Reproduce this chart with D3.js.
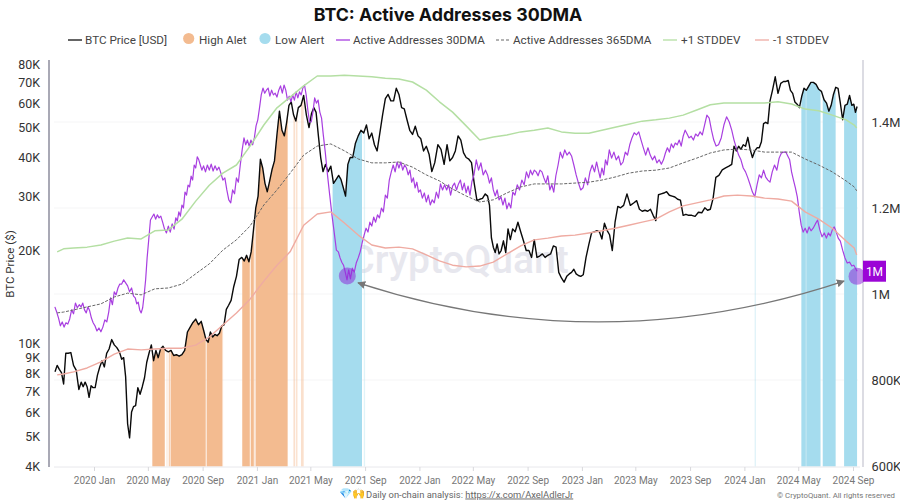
<!DOCTYPE html>
<html>
<head>
<meta charset="utf-8">
<style>
	html, body { margin: 0; padding: 0; background: #fff; overflow: hidden; }
	text { font-family: Roboto, "Noto Sans", sans-serif; }
	text.title { font-family: Inter, Roboto, sans-serif; }
</style>
</head>
<body>
<div id="graphic"></div>
<script src="https://cdn.jsdelivr.net/npm/d3@7/dist/d3.min.js"></script>
<script>

var width = 900, height = 500;

// one row per calendar month, Oct 2019 to Sep 2024. values in a row are spread evenly over that month
var btcPrice = [
	[8100,8500,8250,8050,7400,9300],[9300,9350,8500,8200,7100],[7500,7250,7500,7250,6700,7300,7200],
	[7200,7900,8400,8800,8400,9300],[9600,10300,9900,9700,9400],[8900,9000,7800,5500,4950,6000,6250],[6300,7200,6850,7250,7750,8700],[9300,9900,8800,9500,9000,9600],[9800,9500,9400,9500,9150],[9200,9100,9200,9500,10900],[11300,11700,12000,11500,11800],[11000,10300,10100,10900,10500,10700],[10600,10800,11400,11500,12900,13300],[13800,15300,16500,18700,19000],[18500,19300,18400,19800,23300,27500],
	[30000,39500,37000,33000,31000,33500],[36500,39000,47500,56500,49000],[47000,52000,59000,60500,55000,52500],[58000,59000,63500,55000,50000],[55500,58000,56000,47000,40000,36000],[38000,36000,37500,33000,34000],[35000,34000,32000,30000,38000,40000],[40000,44500,47000,49000,48000],[51000,46000,48000,44000,42000],[48000,55000,62000,64000,61000],[61000,67000,64000,58000,57500],[53000,49000,47500,50500,47000],
	[46000,42000,43500,41000,36000],[38500,44000,42500,38000],[44000,39000,40000,42000,47000],[45500,41500,40000,39500,38500],[33000,29000,29300,29500,30500],[30000,28000,22000,20500,19700,21000,19500],[20000,21500,19700,23500,21700,23500],[23000,24700,23000,21500,20000],[20000,19000,21700,19000,19200],[19500,19000,19300,19500,20700],[20500,17000,16300,15800,16500],[16800,17000,17400,16800,16600,16500],
	[16700,19000,20900,22800,23000],[23200,23000,21800,24500,23300],[22500,20000,24700,27800,27500],[28000,30500,28000,28500],[29000,27200,26800,27000,26800],[27200,26000,25000,30300,30500],[30700,31000,30200,30000,29800],[29300,29100,26000,26200,26000],[26000,25800,26600,26500],[27500,27000,27200,29500,34500],[35000,36500,37000,37500],[38000,43500,42000,43500,42500,44000],
	[43500,46500,42500,40000,42000,43000],[43000,45000,51500,52000,51500,61000],[66000,73000,64500,69500,70500],[70500,71000,66000,64500,60500,59500],[58000,63000,67000,66000,68000,70000],[70000,69000,66500,65500,61500],[60000,56500,59000,64000,67500,67000],[60000,53000,59000,59500,63500,59000],[59500,56000,58500]
];

// thousands of addresses, same month rows
var activeAddresses30 = [
	[970,958,944,926,935,923,933],[930,942,963,954,979,968,975],[970,979,963,956,970,961,944,933],
	[926,914,921,912,923,940,935],[958,991,975,1005,998,1014,1023],[1023,1033,1026,1019,1005,1014,995],[991,977,981,963,956,968,998,1033,1084],[1126,1172,1179,1186,1174,1184,1177,1181],[1167,1151,1142,1158,1144,1163,1151],[1177,1170,1191,1181,1207,1200,1237,1230,1253],[1249,1274,1265,1300,1293,1319,1312,1300,1288],[1298,1284,1300,1288,1302,1286,1298],[1288,1295,1281,1265,1270,1242,1219],[1212,1242,1233,1270,1260,1300,1335],[1363,1347,1358,1344,1358,1347,1363,1391],
	[1405,1433,1463,1479,1467,1474,1479,1460],[1474,1463,1467,1458,1474,1484,1467],[1486,1474,1451,1460,1447,1463,1451,1470],[1456,1470,1463,1479,1486,1463,1428,1400],[1400,1423,1456,1444,1451,1423,1409,1370],[1330,1277,1230,1184,1144,1102],[1098,1084,1074,1067,1051,1033,1056,1035],[1060,1051,1072,1084,1098,1119,1137],[1153,1144,1167,1158,1179,1167,1184],[1177,1200,1191,1230,1223,1265,1284],[1300,1284,1307,1293,1307,1288,1300],[1293,1277,1288,1260,1270,1247,1260,1237],
	[1242,1223,1235,1214,1230,1207,1219],[1212,1237,1223,1256,1242,1254],[1242,1254,1230,1251,1258,1242,1256],[1265,1242,1258,1235,1251,1230,1261],[1277,1312,1288,1305,1277,1288],[1277,1258,1270,1242,1228,1242,1219],[1226,1207,1223,1198,1212,1200,1237],[1230,1254,1242,1265,1254,1284],[1270,1288,1277,1288,1284,1275,1288],[1284,1270,1258,1275,1242,1254,1237],[1275,1300,1330,1316,1335,1323],[1330,1321,1300,1277,1258,1242],
	[1247,1270,1254,1284,1300,1284],[1307,1288,1270,1293,1277,1312,1300],[1335,1316,1330,1312,1321,1300],[1307,1330,1323,1347,1363,1375],[1370,1377,1358,1340,1323,1340],[1323,1312,1321,1305,1312,1302],[1312,1328,1340,1330,1349,1340,1351],[1347,1358,1344,1367,1381,1372,1363],[1367,1358,1372,1367,1377,1370],[1393,1416,1409,1381,1358,1344],[1347,1363,1393,1412,1400],[1381,1358,1340,1323,1312,1293],
	[1284,1270,1254,1237,1226,1254],[1277,1270,1288,1272,1265,1260],[1284,1300,1288,1316,1328,1330],[1330,1321,1312,1284,1265,1247,1226],[1191,1160,1144,1153,1142,1156,1147],[1153,1163,1172,1149,1133,1142],[1130,1142,1135,1149,1156,1144,1130],[1123,1102,1084,1072,1074,1065],[1067,1060,1053]
];

// smooth series, one value a month (two in the first and last month)
var activeAddresses365 = [956,958,963,970,
	977,993,1002,998,1012,1014,1023,1047,1070,1102,1126,1158,
	1207,1242,1281,1323,1344,1349,1333,1314,1305,1305,1307,1295,
	1277,1263,1244,1228,1214,1219,1235,1249,1256,1256,1256,1258,
	1260,1265,1272,1281,1286,1288,1293,1305,1316,1328,1335,1337,
	1335,1330,1330,1330,1314,1300,1284,1263,1249,1240];

var plusStd = [1098,1105,1107,1109,
	1114,1123,1130,1128,1147,1149,1174,1216,1253,1281,1300,1344,
	1393,1433,1458,1484,1507,1507,1509,1507,1505,1502,1500,1493,
	1474,1447,1423,1391,1358,1365,1370,1377,1381,1386,1377,1374,
	1374,1381,1388,1395,1402,1405,1409,1416,1428,1440,1444,1444,
	1444,1444,1447,1442,1430,1426,1416,1405,1393,1386];

var minusStd = [812,814,819,828,
	842,860,872,870,872,874,874,881,900,928,956,988,
	1030,1067,1098,1160,1186,1191,1165,1137,1114,1107,1109,1105,
	1091,1077,1067,1063,1065,1074,1093,1112,1126,1130,1135,1137,
	1142,1147,1153,1160,1167,1174,1191,1205,1212,1219,1228,1230,
	1228,1223,1221,1216,1191,1174,1153,1123,1107,1091];

// alert periods [from, to], shown under the price line
var highAlerts = [["2020-05-11","2020-06-08"],["2020-06-17","2020-06-19"],["2020-06-21","2020-09-08"],["2020-09-10","2020-10-15"],["2020-11-29","2020-12-16"],["2020-12-18","2020-12-25"],["2020-12-29","2021-03-11"]];
var highAlertsFaint = [["2020-06-12","2020-06-14"],["2020-10-15","2020-10-17"],["2020-12-26","2020-12-28"],["2021-03-24","2021-03-28"],["2021-03-30","2021-04-02"],["2021-04-10","2021-04-16"]];
var lowAlerts = [["2021-06-20","2021-08-25"],["2024-05-08","2024-05-18"],["2024-05-19","2024-06-20"],["2024-06-25","2024-07-24"],["2024-08-12","2024-09-12"]];
var lowAlertsFaint = [["2021-08-29","2021-09-01"],["2024-01-24","2024-01-27"],["2024-05-18","2024-05-19"]];

var priceTicks = [4000,5000,6000,7000,8000,9000,10000,20000,30000,40000,50000,60000,70000,80000];
var priceLabels = ["4K","5K","6K","7K","8K","9K","10K","20K","30K","40K","50K","60K","70K","80K"];
var addressTicks = [600,800,1000,1200,1400];
var addressLabels = ["600K","800K","1M","1.2M","1.4M"];
var timeTicks = ["2020-01-01","2020-05-01","2020-09-01","2021-01-01","2021-05-01","2021-09-01","2022-01-01","2022-05-01","2022-09-01","2023-01-01","2023-05-01","2023-09-01","2024-01-01","2024-05-01","2024-09-01"];
var timeLabels = ["2020 Jan","2020 May","2020 Sep","2021 Jan","2021 May","2021 Sep","2022 Jan","2022 May","2022 Sep","2023 Jan","2023 May","2023 Sep","2024 Jan","2024 May","2024 Sep"];

// annotations
var lowMarkers = [{date:"2021-07-23", value:1042},{date:"2024-09-10", value:1041}];
var arrowFrom = {date:"2021-08-16", value:1026};
var arrowBend = {date:"2023-02-12", value:842};
var arrowTo = {date:"2024-08-12", value:1030};
var lastLabel = {value:1053, text:"1M"};

var legendItems = [
	{label:"BTC Price [USD]", kind:"line", color:"#111", lineX:68, textX:85},
	{label:"High Alet", kind:"dot", color:"#f3bb90", lineX:188.7, textX:199},
	{label:"Low Alert", kind:"dot", color:"#a5dcee", lineX:265, textX:275},
	{label:"Active Addresses 30DMA", kind:"line", color:"#a83ee0", lineX:336, textX:353},
	{label:"Active Addresses 365DMA", kind:"dash", color:"#666", lineX:496, textX:513},
	{label:"+1 STDDEV", kind:"line", color:"#b4dfa3", lineX:663, textX:681},
	{label:"-1 STDDEV", kind:"line", color:"#efaba2", lineX:755, textX:773}
];

var parse = function(s) { return new Date(s + "T00:00:00Z"); };

var x = d3.scaleUtc().domain([parse("2020-01-01"), parse("2024-09-01")]).range([94, 853]);
var yPrice = d3.scaleLog().domain([4000, 80000]).range([466.5, 64.5]);
var yAddr = d3.scaleLinear().domain([600, 1400]).range([466, 122]);

var bounds = [parse("2019-10-03")]
	.concat(d3.utcMonths(parse("2019-11-01"), parse("2024-10-01")))
	.concat([parse("2024-09-12")]);

function spread(rows) {
	var points = [];
	rows.forEach(function(row, i) {
		var from = +bounds[i], to = +bounds[i + 1];
		row.forEach(function(v, k) {
			points.push({date: new Date(from + (k + 0.5) / row.length * (to - from)), value: v});
		});
	});
	return points;
}

function monthly(values) {
	var rows = [values.slice(0, 2)];
	values.slice(2, -2).forEach(function(v) { rows.push([v]); });
	rows.push(values.slice(-2));
	return rows;
}

var svg = d3.select("#graphic").append("svg")
	.attr("width", width)
	.attr("height", height)
	.attr("id", "svg");

// title and legend
svg.append("text")
	.attr("class", "title")
	.attr("x", 448).attr("y", 20.5)
	.attr("text-anchor", "middle")
	.attr("font-size", 17.8).attr("font-weight", 700).attr("fill", "#111")
	.text("BTC: Active Addresses 30DMA");

var legend = svg.append("g").attr("class", "legend");
legendItems.forEach(function(d) {
	if (d.kind == "dot") {
		legend.append("circle").attr("cx", d.lineX).attr("cy", 38.5).attr("r", 5.6).attr("fill", d.color);
	} else {
		legend.append("line")
			.attr("x1", d.lineX).attr("x2", d.lineX + 14).attr("y1", 40).attr("y2", 40)
			.attr("stroke", d.color).attr("stroke-width", d.kind == "dash" ? 1 : 1.3)
			.attr("stroke-dasharray", d.kind == "dash" ? "3,2" : null);
	}
	legend.append("text")
		.attr("x", d.textX).attr("y", 43.5)
		.attr("font-size", 11.7).attr("fill", "#444")
		.text(d.label);
});

// watermark
svg.append("text")
	.attr("x", 459).attr("y", 273)
	.attr("text-anchor", "middle")
	.attr("font-size", 39).attr("font-weight", 500).attr("fill", "#e7e7ee")
	.text("CryptoQuant");

// grid
svg.append("g").selectAll("line")
	.data(addressTicks.slice(1))
	.enter().append("line")
	.attr("x1", 54).attr("x2", 858)
	.attr("y1", function(d) { return yAddr(d); })
	.attr("y2", function(d) { return yAddr(d); })
	.attr("stroke", "#f5f5f6");

// alert bands, clipped to the area under the price
var pricePoints = spread(btcPrice);

var underPrice = d3.area()
	.x(function(d) { return x(d.date); })
	.y0(yPrice(4000))
	.y1(function(d) { return yPrice(d.value); });

svg.append("clipPath").attr("id", "under-price")
	.append("path").attr("d", underPrice(pricePoints));

var bands = svg.append("g").attr("clip-path", "url(#under-price)");

function drawBands(ranges, color, opacity) {
	bands.append("g").selectAll("rect")
		.data(ranges)
		.enter().append("rect")
		.attr("x", function(d) { return x(parse(d[0])); })
		.attr("width", function(d) { return x(parse(d[1])) - x(parse(d[0])); })
		.attr("y", 50)
		.attr("height", 420)
		.attr("fill", color)
		.attr("opacity", opacity);
}

drawBands(highAlerts, "#f3bb90", 1);
drawBands(highAlertsFaint, "#f3bb90", 0.45);
drawBands(lowAlerts, "#a5dcee", 1);
drawBands(lowAlertsFaint, "#a5dcee", 0.35);

// lines
function drawLine(points, scale, color, strokeWidth, dash) {
	var line = d3.line()
		.x(function(d) { return x(d.date); })
		.y(function(d) { return scale(d.value); });
	svg.append("path")
		.attr("d", line(points))
		.attr("fill", "none")
		.attr("stroke", color)
		.attr("stroke-width", strokeWidth)
		.attr("stroke-linejoin", "round")
		.attr("stroke-dasharray", dash || null);
}

drawLine(pricePoints, yPrice, "#0a0a0a", 1.4);
drawLine(spread(activeAddresses30), yAddr, "#a83ee0", 1.2);
drawLine(spread(monthly(activeAddresses365)), yAddr, "#666", 1, "3,1.5");
drawLine(spread(monthly(plusStd)), yAddr, "#b4dfa3", 1.5);
drawLine(spread(monthly(minusStd)), yAddr, "#efaba2", 1.4);

// axes
var leftAxis = d3.axisLeft(yPrice)
	.tickValues(priceTicks)
	.tickSize(0)
	.tickPadding(0)
	.tickFormat(function(d, i) { return priceLabels[i]; });

var rightAxis = d3.axisRight(yAddr)
	.tickValues(addressTicks)
	.tickSize(0)
	.tickPadding(0)
	.tickFormat(function(d, i) { return addressLabels[i]; });

var bottomAxis = d3.axisBottom(x)
	.tickValues(timeTicks.map(parse))
	.tickSize(4)
	.tickPadding(6)
	.tickFormat(function(d, i) { return timeLabels[i]; });

var gLeft = svg.append("g").attr("transform", "translate(40,0)").call(leftAxis);
gLeft.select(".domain").remove();
gLeft.selectAll("text").attr("font-size", 12.4).attr("fill", "#333");

var gRight = svg.append("g").attr("transform", "translate(871.5,0)").call(rightAxis);
gRight.select(".domain").remove();
gRight.selectAll("text").attr("font-size", 12.8).attr("fill", "#333");

var gBottom = svg.append("g").attr("transform", "translate(0,467)").call(bottomAxis);
gBottom.select(".domain").attr("d", "M54,0H860").attr("stroke", "#e8e8ec");
gBottom.selectAll("line").attr("stroke", "#d8d8dc");
gBottom.selectAll("text").attr("font-size", 10).attr("fill", "#777");

svg.append("line").attr("x1", 49).attr("x2", 49).attr("y1", 60).attr("y2", 467).attr("stroke", "#a9a9b5").attr("stroke-width", 2);
svg.append("line").attr("x1", 863).attr("x2", 863).attr("y1", 60).attr("y2", 467).attr("stroke", "#dcdce3").attr("stroke-width", 2);

svg.append("text")
	.attr("transform", "translate(14,264) rotate(-90)")
	.attr("text-anchor", "middle")
	.attr("font-size", 11.5).attr("fill", "#333")
	.text("BTC Price ($)");

// arrow between the two lows
var defs = svg.append("defs");
defs.append("marker")
	.attr("id", "head").attr("viewBox", "0 0 10 10")
	.attr("refX", 9).attr("refY", 5)
	.attr("markerWidth", 8).attr("markerHeight", 8)
	.attr("markerUnits", "userSpaceOnUse")
	.attr("orient", "auto-start-reverse")
	.append("path").attr("d", "M0,0L10,5L0,10Z").attr("fill", "#777");

var curve = d3.path();
curve.moveTo(x(parse(arrowFrom.date)), yAddr(arrowFrom.value));
curve.quadraticCurveTo(x(parse(arrowBend.date)), yAddr(arrowBend.value), x(parse(arrowTo.date)), yAddr(arrowTo.value));

svg.append("path")
	.attr("d", curve.toString())
	.attr("fill", "none")
	.attr("stroke", "#777")
	.attr("stroke-width", 1.2)
	.attr("marker-start", "url(#head)")
	.attr("marker-end", "url(#head)");

// low markers and last value tag
svg.append("g").selectAll("circle")
	.data(lowMarkers)
	.enter().append("circle")
	.attr("cx", function(d) { return x(parse(d.date)); })
	.attr("cy", function(d) { return yAddr(d.value); })
	.attr("r", 8.5)
	.attr("fill", "#8e2fd8")
	.attr("opacity", 0.55);

var tagY = yAddr(lastLabel.value);
svg.append("rect")
	.attr("x", 863).attr("y", tagY - 10.5)
	.attr("width", 23).attr("height", 21)
	.attr("fill", "#9b05d6");
svg.append("text")
	.attr("x", 874.5).attr("y", tagY + 4.5)
	.attr("text-anchor", "middle")
	.attr("font-size", 12).attr("fill", "#fff")
	.text(lastLabel.text);

// footer
svg.append("text")
	.attr("x", 339).attr("y", 497)
	.attr("font-size", 10.6)
	.text("💎🙌");

var footer = svg.append("text")
	.attr("x", 366).attr("y", 497.5)
	.attr("font-size", 9.4).attr("fill", "#666");
footer.append("tspan").text("Daily on-chain analysis: ");
footer.append("tspan").attr("text-decoration", "underline").text("https://x.com/AxelAdlerJr");

svg.append("text")
	.attr("x", 895).attr("y", 498)
	.attr("text-anchor", "end")
	.attr("font-size", 7.8).attr("fill", "#777")
	.text("© CryptoQuant. All rights reserved");

</script>
</body>
</html>
